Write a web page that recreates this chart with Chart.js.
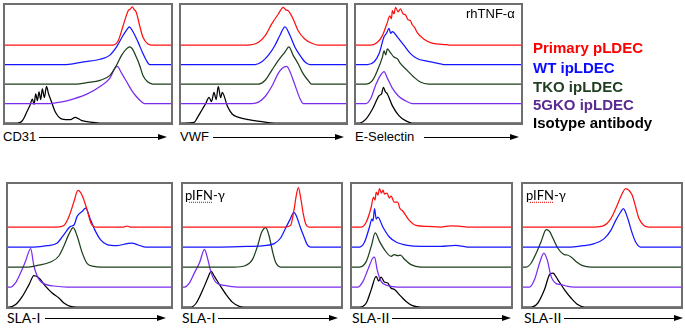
<!DOCTYPE html>
<html><head><meta charset="utf-8">
<script src="https://cdn.jsdelivr.net/npm/chart.js@4.4.1/dist/chart.umd.min.js"></script>
<style>
body{margin:0;background:#fff;}
#root{position:relative;width:685px;height:328px;overflow:hidden;background:#fff;font-family:Arial,"Liberation Sans",sans-serif;}
.panel{position:absolute;border:2px solid #6e6e6e;box-sizing:border-box;background:#fff;}
.panel canvas{display:block;}
.ax{position:absolute;font-size:13px;line-height:16px;color:#000;white-space:nowrap;background:#fff;padding-right:3px;z-index:2;}
.ax.cal{font-family:Lato,"Open Sans",sans-serif;font-size:14px;}
.line{position:absolute;height:1px;background:#000;z-index:1;}
.head{position:absolute;width:0;height:0;border-top:3.5px solid transparent;border-bottom:3.5px solid transparent;border-left:9px solid #000;}
.leg{position:absolute;left:533px;font-weight:bold;font-size:15px;line-height:18px;white-space:nowrap;}
.note{position:absolute;font-size:13px;line-height:16px;white-space:nowrap;}
.note.cal{font-family:Lato,"Open Sans",sans-serif;font-size:13px;}
.squig{text-decoration:underline dotted #e03030;text-underline-offset:2px;}
</style></head><body><div id="root"></div>
<script>
// ---- categories / labels ----
const seriesNames = ["Primary pLDEC", "WT ipLDEC", "TKO ipLDEC", "5GKO ipLDEC", "Isotype antibody"];
const axisLabels = ["CD31", "VWF", "E-Selectin", "SLA-I", "SLA-I", "SLA-II", "SLA-II"];
const treatmentNotes = ["rhTNF-\u03b1", "pIFN-\u03b3", "pIFN-\u03b3"];

// ---- histogram values: [channel %, relative count] per series ----
const cd31Primary = [[65,0],[68.2,0.22],[71.2,1.0],[74.2,1.76],[75.5,1.85],[76.7,1.95],[77.8,1.82],[79.1,1.67],[81.1,1.0],[83.1,0.4],[86.1,0.05],[88,0]];
const cd31WT = [[37,0],[47.3,0.14],[57.3,0.27],[63.2,0.48],[67.2,0.9],[71.2,1.5],[74.2,1.88],[74.8,1.93],[77.1,1.68],[80.1,1.16],[83.1,0.56],[85.1,0.22],[87.1,0]];
const cd31TKO = [[43,0],[49.3,0.07],[57.3,0.19],[63.2,0.44],[67.2,0.96],[70.2,1.47],[73.2,1.8],[75.1,1.9],[76.7,1.8],[79.1,1.38],[81.1,0.96],[83.1,0.44],[86.1,0.1],[89,0]];
const cd31GKO = [[27,0],[33.4,0.07],[41.4,0.24],[49.3,0.48],[57.3,0.87],[63.2,1.3],[66.2,1.81],[67.6,1.9],[70.2,1.56],[73.2,1.13],[76.1,0.7],[79.1,0.36],[82.1,0.1],[84,0]];
const cd31Iso = [[7.6,0],[10.5,0.12],[13.5,0.63],[15,0.9],[16.5,1.23],[17.5,0.95],[18.5,1.5],[19.5,1.15],[20.5,1.6],[21.5,1.2],[22.5,1.75],[23.7,1.3],[25,1.88],[26.2,1.5],[27.4,1.23],[30.4,0.55],[34.4,0.2],[39.4,0.17],[42.3,0.29],[46.3,0.12],[53.3,0.03],[57,0]];

const vwfPrimary = [[40,0],[47,0.14],[51,0.48],[55,1.08],[59,1.59],[62,1.93],[63.5,1.8],[65,1.76],[68,1.33],[71,0.73],[75,0.31],[79,0.1],[83,0]];
const vwfWT = [[45,0],[49,0.14],[53,0.48],[57,0.99],[60,1.5],[63,1.93],[66,1.5],[69,0.9],[72,0.48],[75,0.14],[78,0]];
const vwfTKO = [[47,0],[51,0.19],[55,0.7],[59,1.21],[63,1.64],[65.4,1.9],[68,1.47],[71,1.04],[74,0.53],[77,0.19],[79,0]];
const vwfGKO = [[43,0],[47,0.07],[51,0.36],[55,0.87],[59,1.56],[61.4,1.81],[64,1.9],[66,1.64],[69,0.96],[72,0.27],[74,0]];
const vwfIso = [[2,0],[8,0.03],[10,0.29],[13,0.72],[15,1.0],[17,1.32],[18.5,1.1],[20,1.57],[21.3,1.2],[22.6,1.88],[24,1.3],[25,1.57],[28,0.89],[31,0.46],[35,0.29],[41,0.17],[49,0.07],[57,0]];

const eselPrimary = [[9,0],[13,0.14],[16,0.48],[19,1.16],[20.5,1.5],[21.5,1.35],[22,1.76],[23,1.6],[24,1.93],[25.5,1.7],[27,1.85],[28.5,1.6],[30,1.55],[31.5,1.3],[33,1.25],[34,1.05],[35.5,0.9],[37,0.65],[41,0.31],[46,0.1],[55,0.02],[57,0]];
const eselWT = [[7,0],[11,0.14],[14,0.56],[17,1.42],[18.5,1.6],[20,1.85],[21,1.6],[22,1.68],[25,1.42],[29,0.99],[33,0.56],[37,0.31],[43,0.17],[49,0.07],[53,0]];
const eselTKO = [[6,0],[10,0.19],[13,0.7],[16,1.38],[17,1.7],[18,1.5],[19,1.8],[20.6,1.64],[23,1.38],[25,1.3],[27,1.04],[31,0.7],[35,0.36],[39,0.1],[44,0]];
const eselGKO = [[6,0],[9,0.27],[12,0.96],[15,1.47],[17,1.64],[19,1.3],[22,0.79],[26,0.36],[30,0.14],[34,0]];
const eselIso = [[2,0],[6,0.2],[10,0.72],[14,1.4],[15.5,1.5],[16.6,1.83],[17.8,1.6],[19,1.49],[22,0.89],[26,0.38],[30,0.12],[34,0]];

const slaIPrimary = [[30.2,0],[34.3,0.08],[37.3,0.5],[40.4,1.25],[42.9,1.83],[45.5,1.58],[48.6,0.83],[51,0.17],[53.7,0],[71,0],[73,0.05],[75,0]];
const slaIWT = [[15.9,0],[24.1,0.07],[30.2,0.2],[34.3,0.62],[38.4,1.03],[40.5,1.1],[42.4,1.53],[45.5,1.78],[47.6,1.95],[50.6,1.37],[53.7,0.78],[56.7,0.37],[60.8,0.12],[66.9,0.07],[73.1,0.17],[76.1,0.2],[79.2,0.12],[84.3,0]];
const slaITKO = [[11.8,0],[18,0.08],[26.1,0.25],[31.2,0.55],[34.3,1.05],[37.3,1.63],[40,1.97],[42.4,1.55],[45.5,0.72],[48.6,0.17],[52.7,0.03],[56.7,0]];
const slaIGKO = [[1.6,0],[4.7,0.22],[7.8,0.72],[10.8,1.3],[13.9,1.92],[15.9,1.05],[19,0.38],[23.1,0.13],[28.2,0.05],[36.3,0]];
const slaIIso = [[0.6,0],[4.7,0.12],[8.8,0.53],[12.9,1.12],[15.9,1.57],[19,1.45],[23.1,1.03],[27.1,0.7],[31.2,0.45],[34.3,0.2],[38.4,0.03],[42.4,0]];

const slaIifnPrimary = [[65,0],[68.1,0.08],[70.2,0.83],[71.9,1.67],[73,1.97],[74.4,1.5],[76.1,0.67],[77.6,0.17],[79.7,0]];
const slaIifnWT = [[24.1,0],[40.9,0.03],[51.4,0.07],[57.7,0.17],[61.8,0.45],[65,0.95],[67.7,1.37],[70.2,1.73],[71.9,1.53],[74.4,0.95],[76.5,0.53],[78.6,0.12],[80.7,0]];
const slaIifnTKO = [[32.5,0],[38.8,0.05],[44,0.38],[47.2,1.05],[49.7,1.72],[52.4,1.97],[54.5,1.55],[56.6,0.8],[58.7,0.22],[61.8,0]];
const slaIifnGKO = [[1,0],[4.2,0.22],[7.3,0.72],[10.5,1.22],[13.6,1.88],[15.7,1.38],[17.8,0.72],[21,0.22],[26.2,0.08],[34.6,0]];
const slaIifnIso = [[5.2,0],[8.4,0.2],[12.6,0.87],[15.7,1.45],[17.8,1.78],[19.9,1.53],[23.1,1.12],[27.3,0.62],[31.4,0.23],[35.6,0.03],[38.8,0]];

const slaIIPrimary = [[5.8,0],[9,0.25],[12.1,1.0],[13.5,1.5],[14.5,1.35],[15.2,1.75],[16.3,1.6],[17.3,1.92],[18.5,1.7],[19.5,1.85],[20.4,1.65],[22,1.7],[23.5,1.45],[24.6,1.55],[26.5,1.25],[28.8,1.25],[30,0.95],[31.9,0.8],[36,0.33],[40.2,0.08],[47.5,0.03],[55.8,0],[62.1,0.06],[68.3,0.03],[72.5,0]];
const slaIIWT = [[4.8,0],[7.9,0.25],[11,1.0],[12.5,1.4],[13.2,1.3],[14.2,1.92],[15.2,1.4],[16.3,1.5],[19.4,1.0],[23.5,0.5],[27.7,0.25],[35,0.08],[43.3,0.03],[55.8,0.03],[65.2,0.08],[72.5,0]];
const slaIITKO = [[4.8,0],[9,0.28],[12.1,1.03],[14.6,1.7],[17.3,1.28],[20.4,0.87],[24.6,0.53],[26.5,0.62],[28.8,0.57],[30.5,0.6],[32.9,0.4],[37.1,0.12],[43.3,0]];
const slaIIGKO = [[3.8,0],[6.9,0.28],[10,0.87],[13.1,1.45],[14.2,1.5],[15.8,0.87],[18.3,0.28],[22.5,0.07],[28.8,0]];
const slaIIIso = [[4.8,0],[9,0.2],[12.1,0.87],[15.2,1.53],[16.8,1.3],[18.3,1.5],[20.3,1.25],[22.5,1.2],[24.5,0.95],[26.7,0.87],[30.8,0.53],[34,0.28],[38.1,0.07],[43.3,0]];

const slaIIifnPrimary = [[45.1,0],[51.4,0.08],[55.6,0.42],[58.7,0.92],[61.8,1.5],[65,1.92],[67.1,1.83],[69.2,1.58],[71.3,1.0],[73.4,0.42],[76.5,0.08],[79.7,0]];
const slaIIifnWT = [[30.4,0],[38.8,0.07],[45.1,0.17],[51.4,0.42],[55.6,0.83],[58.7,1.33],[61.8,1.75],[63.5,1.92],[66,1.5],[69.2,0.67],[71.3,0.25],[74.4,0]];
const slaIIifnTKO = [[2.1,0],[5.2,0.2],[8.4,0.7],[11.5,1.28],[14.7,1.87],[16.8,1.78],[18.9,1.45],[22,0.95],[26.2,0.62],[28,0.6],[30.4,0.5],[33.5,0.28],[37.7,0.07],[43,0]];
const slaIIifnGKO = [[4.2,0],[7.3,0.37],[10.5,1.2],[13.2,1.7],[15.3,1.37],[17.8,0.53],[21,0.17],[24.1,0.12],[28.3,0.03],[32.5,0]];
const slaIIifnIso = [[5.2,0],[9.4,0.2],[13.6,0.87],[16.8,1.62],[18.9,1.7],[22,1.37],[26.2,0.87],[30.4,0.45],[34.6,0.12],[38.8,0]];

const panelSeries = [
  [cd31Primary, cd31WT, cd31TKO, cd31GKO, cd31Iso],
  [vwfPrimary, vwfWT, vwfTKO, vwfGKO, vwfIso],
  [eselPrimary, eselWT, eselTKO, eselGKO, eselIso],
  [slaIPrimary, slaIWT, slaITKO, slaIGKO, slaIIso],
  [slaIifnPrimary, slaIifnWT, slaIifnTKO, slaIifnGKO, slaIifnIso],
  [slaIIPrimary, slaIIWT, slaIITKO, slaIIGKO, slaIIIso],
  [slaIIifnPrimary, slaIIifnWT, slaIIifnTKO, slaIIifnGKO, slaIIifnIso]
];

// ---- styling / layout ----
const lineColors = ["#ff1010", "#1515ff", "#1d3f1d", "#7a2cf0", "#000000"];
const legendColors = ["#ff0000", "#0a0aff", "#1f3d1f", "#5a2a90", "#000000"];
const panelBoxes = [
  {left:3, top:3, w:170, h:122, sp:19.5, cal:false},
  {left:179, top:3, w:169, h:122, sp:19.5, cal:false},
  {left:354, top:3, w:169, h:122, sp:19.5, cal:false},
  {left:6, top:182, w:167, h:127, sp:20, cal:true},
  {left:181, top:182, w:162, h:127, sp:20, cal:true},
  {left:350, top:182, w:163, h:127, sp:20, cal:true},
  {left:521, top:182, w:162, h:127, sp:20, cal:true}
];
const axisPos = [
  {x:3, yc:137, a1:35, a2:167},
  {x:180, yc:137, a1:213, a2:344},
  {x:355, yc:137, a1:424, a2:519},
  {x:7, yc:318, a1:45, a2:166},
  {x:182, yc:318, a1:217, a2:338},
  {x:352, yc:318, a1:389, a2:511},
  {x:524, yc:318, a1:556, a2:683}
];
const notePos = [{x:466, y:6, cal:false}, {x:185, y:187, cal:true}, {x:526, y:187, cal:true}];
const legendY = [39, 59, 78, 96, 114];

const root = document.getElementById('root');

panelBoxes.forEach((b, i) => {
  const wrap = document.createElement('div');
  wrap.className = 'panel';
  Object.assign(wrap.style, {left:b.left+'px', top:b.top+'px', width:b.w+'px', height:b.h+'px'});
  const cw = b.w - 4, chh = b.h - 4;
  const cv = document.createElement('canvas');
  cv.width = cw; cv.height = chh;
  cv.style.width = cw+'px'; cv.style.height = chh+'px';
  wrap.appendChild(cv);
  root.appendChild(wrap);
  const datasets = panelSeries[i].map((pts, k) => {
    const off = 4 - k;
    const data = [{x:0, y:off}].concat(pts.map(p => ({x:p[0], y:off + p[1]}))).concat([{x:100, y:off}]);
    return {label: seriesNames[k], data, borderColor: lineColors[k], borderWidth: 1.25,
            pointRadius: 0, fill: false, cubicInterpolationMode: 'monotone'};
  });
  new Chart(cv, {
    type: 'line',
    data: {datasets},
    options: {
      responsive: false, animation: false, devicePixelRatio: 1,
      layout: {padding: 0},
      scales: {
        x: {type:'linear', min:0, max:100, display:false},
        y: {min:0, max: chh / b.sp, display:false}
      },
      plugins: {legend:{display:false}, tooltip:{enabled:false}}
    }
  });
});

axisLabels.forEach((t, i) => {
  const p = axisPos[i];
  const d = document.createElement('div');
  d.className = 'ax' + (panelBoxes[i].cal ? ' cal' : '');
  d.textContent = t;
  d.style.left = p.x + 'px'; d.style.top = (p.yc - 8) + 'px';
  root.appendChild(d);
  const l = document.createElement('div');
  l.className = 'line';
  l.style.left = p.a1 + 'px'; l.style.top = p.yc + 'px'; l.style.width = (p.a2 - p.a1 - 6) + 'px';
  root.appendChild(l);
  const h = document.createElement('div');
  h.className = 'head';
  h.style.left = (p.a2 - 9) + 'px'; h.style.top = (p.yc - 3) + 'px';
  root.appendChild(h);
});

treatmentNotes.forEach((t, i) => {
  const p = notePos[i];
  const d = document.createElement('div');
  d.className = 'note' + (p.cal ? ' cal' : '');
  if (p.cal) {
    const s = document.createElement('span');
    s.className = 'squig'; s.textContent = t.split('-')[0];
    d.appendChild(s);
    d.appendChild(document.createTextNode('-' + t.split('-')[1]));
  } else d.textContent = t;
  d.style.left = p.x + 'px'; d.style.top = p.y + 'px';
  root.appendChild(d);
});

seriesNames.forEach((t, k) => {
  const d = document.createElement('div');
  d.className = 'leg';
  d.textContent = t;
  d.style.top = legendY[k] + 'px';
  d.style.color = legendColors[k];
  root.appendChild(d);
});
</script></body></html>
